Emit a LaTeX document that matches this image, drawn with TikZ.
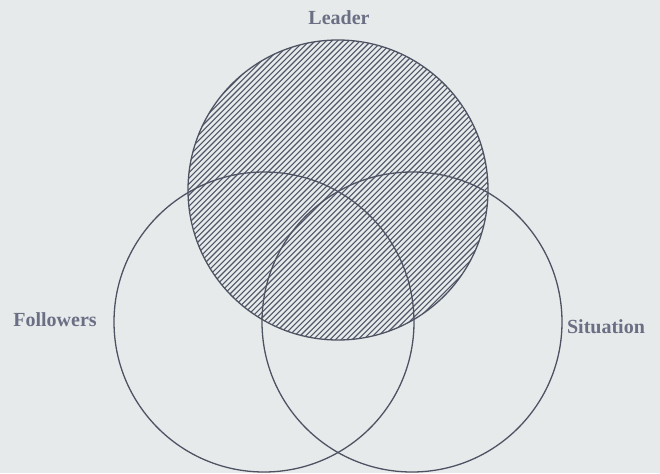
\documentclass[tikz,border=0pt]{standalone}
\usepackage{fontspec}
\setmainfont{Liberation Serif}
\definecolor{bgc}{HTML}{E7EAEB}
\definecolor{linec}{HTML}{4E5363}
\definecolor{hatchc}{HTML}{4F5566}
\definecolor{textc}{HTML}{6A6F84}
\begin{document}
\begin{tikzpicture}[x=1pt,y=-1pt,
  ring/.style={circle,draw=linec,line width=1.3pt,minimum size=300pt,inner sep=0pt},
  lbl/.style={text=textc,font=\fontsize{20}{22}\selectfont\bfseries,inner sep=0pt}]
\fill[bgc] (0,0) rectangle (660,473);
\useasboundingbox (0,0) rectangle (660,473);
% hatching inside the Leader circle
\begin{scope}
  \clip (338,190) circle (150);
  \foreach \c in {300,305.6,...,760}{
    \draw[hatchc,line width=1.1pt] (\c-360,360) -- (\c,0);
  }
\end{scope}
\node[ring] (leader) at (338,190) {};
\node[ring] (followers) at (264,322) {};
\node[ring] (situation) at (412,322) {};
\node[lbl] (tl) at (339,18) {Leader};
\node[lbl] (tf) at (55,320) {Followers};
\node[lbl] (ts) at (606,327) {Situation};
\end{tikzpicture}
\end{document}
